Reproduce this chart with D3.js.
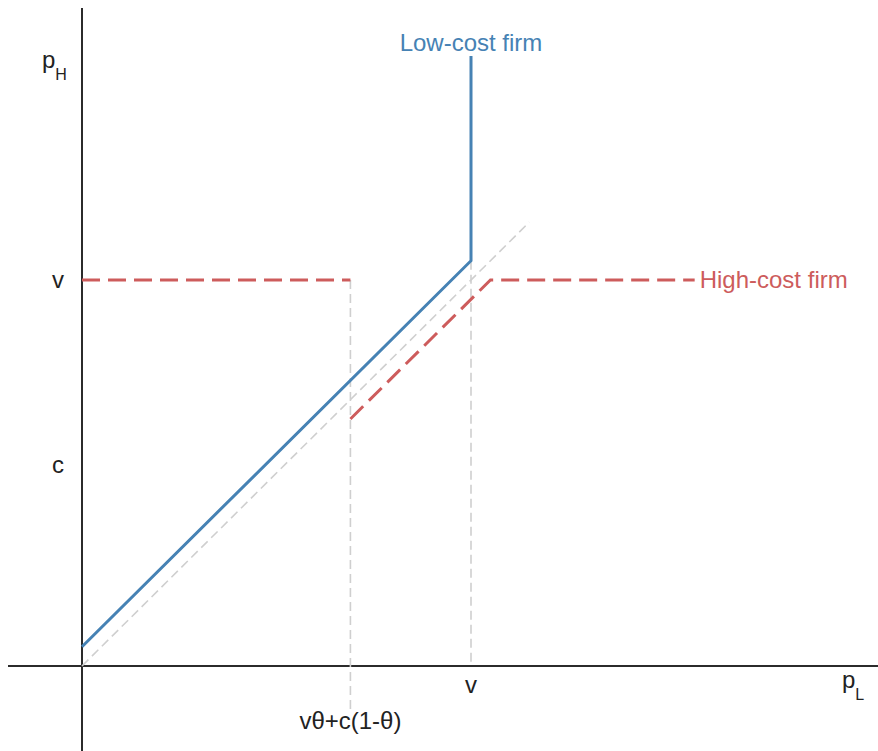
<!DOCTYPE html>
<html>
<head>
<meta charset="utf-8">
<script src="https://cdn.jsdelivr.net/npm/d3@7"></script>
<style>
  html, body { margin: 0; padding: 0; background: #fff; }
  svg { display: block; }
  text { font-family: "Liberation Sans", Arial, Helvetica, sans-serif; }
</style>
</head>
<body>
<div id="chart"></div>
<script>
// Model parameters
const v = 10;
const c = 5.2;
const poolX = 6.9;            // vθ + c(1-θ)
const lowCostTop = 15.8;
const highCostEnd = 15.75;

// Best-response curves (p_L, p_H)
const lowCost = [[0, 0.5], [v, v + 0.5], [v, lowCostTop]];
const highCostLeft = [[0, v], [poolX, v]];
const highCostRight = [[poolX, poolX - 0.5], [v + 0.5, v], [highCostEnd, v]];
const diagonal = [[0, 0], [11.5, 11.5]];

// Vertical guide lines
const guides = [
  [[poolX, v], [poolX, -1.15]],
  [[v, v + 0.5], [v, 0]]
];

// Tick labels
const xTicks = [{ value: poolX, label: "vθ+c(1-θ)" }, { value: v, label: "v" }];
const yTicks = [{ value: v, label: "v" }, { value: c, label: "c" }];

const width = 878, height = 751;
const blue = "#4682b4", red = "#cd5c5c";

const svg = d3.select("#chart").append("svg")
  .attr("width", width).attr("height", height);

const x = d3.scaleLinear().domain([0, v]).range([82, 471]);
const y = d3.scaleLinear().domain([0, v]).range([666, 280]);
const line = d3.line().x(d => x(d[0])).y(d => y(d[1]));

// Axes through the origin
svg.append("line")
  .attr("x1", 8).attr("x2", width).attr("y1", y(0)).attr("y2", y(0))
  .attr("stroke", "#2b2b2b").attr("stroke-width", 2);
svg.append("line")
  .attr("x1", x(0)).attr("x2", x(0)).attr("y1", 8).attr("y2", height)
  .attr("stroke", "#2b2b2b").attr("stroke-width", 2);

// 45-degree reference line and guides
svg.append("path").datum(diagonal).attr("d", line)
  .attr("fill", "none").attr("stroke", "#cfcfcf").attr("stroke-width", 1.6)
  .attr("stroke-dasharray", "9,5");
guides.forEach(g => {
  svg.append("path").datum(g).attr("d", line)
    .attr("fill", "none").attr("stroke", "#cfcfcf").attr("stroke-width", 1.6)
    .attr("stroke-dasharray", "9,5");
});

// High-cost firm (dashed)
[highCostLeft, highCostRight].forEach(seg => {
  svg.append("path").datum(seg).attr("d", line)
    .attr("fill", "none").attr("stroke", red).attr("stroke-width", 3)
    .attr("stroke-dasharray", "18,8");
});

// Low-cost firm
svg.append("path").datum(lowCost).attr("d", line)
  .attr("fill", "none").attr("stroke", blue).attr("stroke-width", 3);

const fs = 24;

// Curve labels
svg.append("text")
  .attr("x", x(v)).attr("y", y(lowCostTop) - 5)
  .attr("text-anchor", "middle").attr("font-size", fs).attr("fill", blue)
  .text("Low-cost firm");
svg.append("text")
  .attr("x", x(highCostEnd) + 5).attr("y", y(v) + 8)
  .attr("font-size", fs).attr("fill", red)
  .text("High-cost firm");

// Tick labels
svg.selectAll(".xtick").data(xTicks).join("text")
  .attr("class", "xtick")
  .attr("x", d => x(d.value))
  .attr("y", (d, i) => i === 0 ? 729 : 693)
  .attr("text-anchor", "middle").attr("font-size", fs).attr("fill", "#222")
  .text(d => d.label);
svg.selectAll(".ytick").data(yTicks).join("text")
  .attr("class", "ytick")
  .attr("x", x(0) - 24).attr("y", d => y(d.value) + 8)
  .attr("text-anchor", "middle").attr("font-size", fs).attr("fill", "#222")
  .text(d => d.label);

// Axis titles with subscripts
function axisTitle(px, py, main, sub) {
  const t = svg.append("text").attr("x", px).attr("y", py)
    .attr("font-size", fs).attr("fill", "#222");
  t.append("tspan").text(main);
  t.append("tspan").attr("dy", 12).attr("font-size", 16).text(sub);
}
axisTitle(42, 68, "p", "H");
axisTitle(842, 688, "p", "L");
</script>
</body>
</html>
